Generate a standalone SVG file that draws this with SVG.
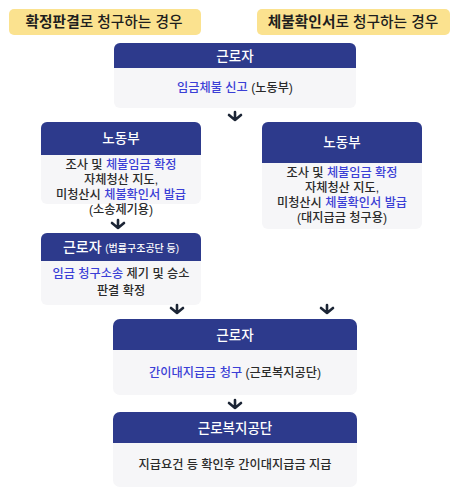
<svg xmlns="http://www.w3.org/2000/svg" width="460" height="500" viewBox="0 0 460 500">
<defs>
<style>
text{font-family:"Liberation Sans","Noto Sans CJK KR",sans-serif;text-anchor:middle}
.tag{fill:#fbe28f}
.tagt{font-size:14.7px;fill:#1e1e1e;font-weight:500}
.b{font-weight:700}
.body{fill:#f6f6f8}
.head{fill:#2d3a8c}
.ht{font-size:13.5px;fill:#fff;font-weight:500}
.bt{font-size:12.2px;fill:#2a2a2a;font-weight:500}
.hl{fill:#3b3fd6}
.conn{stroke:#1c2535;stroke-width:2.6;fill:none;stroke-linecap:round;stroke-linejoin:round}
</style>
</defs>
<rect width="460" height="500" fill="#fff"/>
<g id="tag-left">
<rect class="tag" x="9" y="9" width="192" height="26" rx="5"/>
<text class="tagt" x="104" y="27"><tspan class="b">확정판결</tspan>로 청구하는 경우</text>
</g>
<g id="tag-right">
<rect class="tag" x="257" y="9" width="193" height="26" rx="5"/>
<text class="tagt" x="353" y="27"><tspan class="b">체불확인서</tspan>로 청구하는 경우</text>
</g>
<g id="n1">
<rect class="body" x="114" y="43" width="242" height="65" rx="6"/>
<path class="head" d="M114 68V49a6 6 0 0 1 6-6h230a6 6 0 0 1 6 6v19z"/>
<text class="ht" x="235" y="60.5">근로자</text>
<text class="bt" x="235" y="92"><tspan class="hl">임금체불 신고</tspan> (노동부)</text>
</g>
<g id="n2">
<rect class="body" x="41" y="122" width="160" height="82" rx="6"/>
<path class="head" d="M41 155V128a6 6 0 0 1 6-6h148a6 6 0 0 1 6 6v27z"/>
<text class="ht" x="121" y="143">노동부</text>
<text class="bt"><tspan x="121" y="168.5">조사 및 <tspan class="hl">체불임금 확정</tspan></tspan><tspan x="121" y="183.5">자체청산 지도,</tspan><tspan x="121" y="198.5">미청산시 <tspan class="hl">체불확인서 발급</tspan></tspan><tspan x="121" y="213.5">(소송제기용)</tspan></text>
</g>
<g id="n3">
<rect class="body" x="41" y="233" width="160" height="72" rx="6"/>
<path class="head" d="M41 261V239a6 6 0 0 1 6-6h148a6 6 0 0 1 6 6v22z"/>
<text class="ht" x="121" y="252"><tspan font-size="14">근로자</tspan> <tspan font-size="10">(법률구조공단 등)</tspan></text>
<text class="bt"><tspan x="121" y="278"><tspan class="hl">임금 청구소송</tspan> 제기 및 승소</tspan><tspan x="121" y="295">판결 확정</tspan></text>
</g>
<g id="n4">
<rect class="body" x="262" y="122" width="160" height="107" rx="6"/>
<path class="head" d="M262 163V128a6 6 0 0 1 6-6h148a6 6 0 0 1 6 6v35z"/>
<text class="ht" x="342" y="147">노동부</text>
<text class="bt"><tspan x="342" y="177">조사 및 <tspan class="hl">체불임금 확정</tspan></tspan><tspan x="342" y="192">자체청산 지도,</tspan><tspan x="342" y="207">미청산시 <tspan class="hl">체불확인서 발급</tspan></tspan><tspan x="342" y="222">(대지급금 청구용)</tspan></text>
</g>
<g id="n5">
<rect class="body" x="113" y="319" width="244" height="76" rx="7"/>
<path class="head" d="M113 350V326a7 7 0 0 1 7-7h230a7 7 0 0 1 7 7v24z"/>
<text class="ht" x="235" y="339.5">근로자</text>
<text class="bt" x="235" y="377"><tspan class="hl">간이대지급금 청구</tspan> (근로복지공단)</text>
</g>
<g id="n6">
<rect class="body" x="113" y="412" width="244" height="75" rx="7"/>
<path class="head" d="M113 443V419a7 7 0 0 1 7-7h230a7 7 0 0 1 7 7v24z"/>
<text class="ht" x="235" y="432.5">근로복지공단</text>
<text class="bt" x="235" y="469">지급요건 등 확인후 간이대지급금 지급</text>
</g>
<g id="connectors">
<path class="conn" d="M235 112v8M229 115l6 5 6-5"/>
<path class="conn" d="M118 220v8M112 223l6 5 6-5"/>
<path class="conn" d="M177 305v8M171 308l6 5 6-5"/>
<path class="conn" d="M327 305v8M321 308l6 5 6-5"/>
<path class="conn" d="M235 400v8M229 403l6 5 6-5"/>
</g>
</svg>
